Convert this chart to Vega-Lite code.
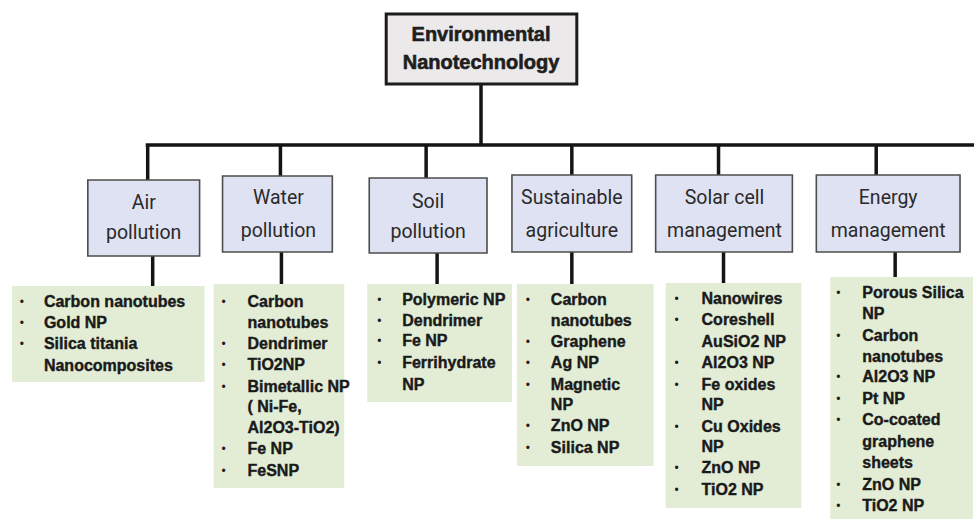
{
  "$schema": "https://vega.github.io/schema/vega-lite/v6.json",
  "width": 976,
  "height": 519,
  "padding": 0,
  "autosize": {"type": "fit", "contains": "padding"},
  "background": "white",
  "config": {"view": {"stroke": null}},
  "datasets": {
    "links": [
      {"x": 482, "x2": 482, "y": 84, "y2": 145},
      {"x": 146, "x2": 976, "y": 145, "y2": 145},
      {"x": 148, "x2": 148, "y": 145, "y2": 180},
      {"x": 281, "x2": 281, "y": 145, "y2": 176},
      {"x": 427, "x2": 427, "y": 145, "y2": 178},
      {"x": 573, "x2": 573, "y": 145, "y2": 175},
      {"x": 720, "x2": 720, "y": 145, "y2": 175},
      {"x": 878, "x2": 878, "y": 145, "y2": 175},
      {"x": 153, "x2": 153, "y": 256, "y2": 286},
      {"x": 282, "x2": 282, "y": 252, "y2": 284},
      {"x": 438, "x2": 438, "y": 253, "y2": 284},
      {"x": 573, "x2": 573, "y": 252, "y2": 284},
      {"x": 725, "x2": 725, "y": 252, "y2": 283},
      {"x": 897, "x2": 897, "y": 252, "y2": 277}
    ],
    "boxes": [
      {"kind": "root", "x": 387, "x2": 578, "y": 14, "y2": 84},
      {"kind": "category", "x": 88, "x2": 200, "y": 180, "y2": 256},
      {"kind": "category", "x": 223, "x2": 333, "y": 176, "y2": 252},
      {"kind": "category", "x": 370, "x2": 488, "y": 178, "y2": 253},
      {"kind": "category", "x": 513, "x2": 633, "y": 175, "y2": 252},
      {"kind": "category", "x": 657, "x2": 794, "y": 175, "y2": 252},
      {"kind": "category", "x": 818, "x2": 962, "y": 175, "y2": 252},
      {"kind": "list", "x": 12, "x2": 205, "y": 286, "y2": 382},
      {"kind": "list", "x": 214, "x2": 345, "y": 284, "y2": 488},
      {"kind": "list", "x": 368, "x2": 513, "y": 284, "y2": 402},
      {"kind": "list", "x": 518, "x2": 655, "y": 284, "y2": 466},
      {"kind": "list", "x": 667, "x2": 803, "y": 283, "y2": 508},
      {"kind": "list", "x": 832, "x2": 975, "y": 277, "y2": 519}
    ],
    "titles": [
      {"x": 482, "y": 35, "text": "Environmental"},
      {"x": 482, "y": 63, "text": "Nanotechnology"}
    ],
    "categories": [
      {"x": 144, "y": 203, "text": "Air"},
      {"x": 144, "y": 233, "text": "pollution"},
      {"x": 279, "y": 198, "text": "Water"},
      {"x": 279, "y": 231, "text": "pollution"},
      {"x": 429, "y": 202, "text": "Soil"},
      {"x": 429, "y": 232, "text": "pollution"},
      {"x": 573, "y": 198, "text": "Sustainable"},
      {"x": 573, "y": 231, "text": "agriculture"},
      {"x": 726, "y": 198, "text": "Solar cell"},
      {"x": 726, "y": 231, "text": "management"},
      {"x": 890, "y": 198, "text": "Energy"},
      {"x": 890, "y": 231, "text": "management"}
    ],
    "items": [
      {"group": "Air pollution", "bullet": 22, "x": 44, "y": 302, "text": "Carbon nanotubes", "first": true},
      {"group": "Air pollution", "bullet": 22, "x": 44, "y": 323, "text": "Gold NP", "first": true},
      {"group": "Air pollution", "bullet": 22, "x": 44, "y": 344, "text": "Silica titania", "first": true},
      {"group": "Air pollution", "bullet": 22, "x": 44, "y": 366, "text": "Nanocomposites", "first": false},
      {"group": "Water pollution", "bullet": 224, "x": 248, "y": 302, "text": "Carbon", "first": true},
      {"group": "Water pollution", "bullet": 224, "x": 248, "y": 323, "text": "nanotubes", "first": false},
      {"group": "Water pollution", "bullet": 224, "x": 248, "y": 344, "text": "Dendrimer", "first": true},
      {"group": "Water pollution", "bullet": 224, "x": 248, "y": 365, "text": "TiO2NP", "first": true},
      {"group": "Water pollution", "bullet": 224, "x": 248, "y": 387, "text": "Bimetallic NP", "first": true},
      {"group": "Water pollution", "bullet": 224, "x": 248, "y": 407, "text": "( Ni-Fe,", "first": false},
      {"group": "Water pollution", "bullet": 224, "x": 248, "y": 428, "text": "Al2O3-TiO2)", "first": false},
      {"group": "Water pollution", "bullet": 224, "x": 248, "y": 449, "text": "Fe NP", "first": true},
      {"group": "Water pollution", "bullet": 224, "x": 248, "y": 471, "text": "FeSNP", "first": true},
      {"group": "Soil pollution", "bullet": 380, "x": 403, "y": 300, "text": "Polymeric NP", "first": true},
      {"group": "Soil pollution", "bullet": 380, "x": 403, "y": 321, "text": "Dendrimer", "first": true},
      {"group": "Soil pollution", "bullet": 380, "x": 403, "y": 341, "text": "Fe NP", "first": true},
      {"group": "Soil pollution", "bullet": 380, "x": 403, "y": 363, "text": "Ferrihydrate", "first": true},
      {"group": "Soil pollution", "bullet": 380, "x": 403, "y": 385, "text": "NP", "first": false},
      {"group": "Sustainable agriculture", "bullet": 529, "x": 552, "y": 300, "text": "Carbon", "first": true},
      {"group": "Sustainable agriculture", "bullet": 529, "x": 552, "y": 321, "text": "nanotubes", "first": false},
      {"group": "Sustainable agriculture", "bullet": 529, "x": 552, "y": 342, "text": "Graphene", "first": true},
      {"group": "Sustainable agriculture", "bullet": 529, "x": 552, "y": 363, "text": "Ag NP", "first": true},
      {"group": "Sustainable agriculture", "bullet": 529, "x": 552, "y": 385, "text": "Magnetic", "first": true},
      {"group": "Sustainable agriculture", "bullet": 529, "x": 552, "y": 405, "text": "NP", "first": false},
      {"group": "Sustainable agriculture", "bullet": 529, "x": 552, "y": 426, "text": "ZnO NP", "first": true},
      {"group": "Sustainable agriculture", "bullet": 529, "x": 552, "y": 448, "text": "Silica NP", "first": true},
      {"group": "Solar cell management", "bullet": 678, "x": 703, "y": 299, "text": "Nanowires", "first": true},
      {"group": "Solar cell management", "bullet": 678, "x": 703, "y": 320, "text": "Coreshell", "first": true},
      {"group": "Solar cell management", "bullet": 678, "x": 703, "y": 342, "text": "AuSiO2 NP", "first": false},
      {"group": "Solar cell management", "bullet": 678, "x": 703, "y": 363, "text": "Al2O3 NP", "first": true},
      {"group": "Solar cell management", "bullet": 678, "x": 703, "y": 385, "text": "Fe oxides", "first": true},
      {"group": "Solar cell management", "bullet": 678, "x": 703, "y": 405, "text": "NP", "first": false},
      {"group": "Solar cell management", "bullet": 678, "x": 703, "y": 427, "text": "Cu Oxides", "first": true},
      {"group": "Solar cell management", "bullet": 678, "x": 703, "y": 447, "text": "NP", "first": false},
      {"group": "Solar cell management", "bullet": 678, "x": 703, "y": 468, "text": "ZnO NP", "first": true},
      {"group": "Solar cell management", "bullet": 678, "x": 703, "y": 490, "text": "TiO2 NP", "first": true},
      {"group": "Energy management", "bullet": 840, "x": 864, "y": 293, "text": "Porous Silica", "first": true},
      {"group": "Energy management", "bullet": 840, "x": 864, "y": 314, "text": "NP", "first": false},
      {"group": "Energy management", "bullet": 840, "x": 864, "y": 336, "text": "Carbon", "first": true},
      {"group": "Energy management", "bullet": 840, "x": 864, "y": 357, "text": "nanotubes", "first": false},
      {"group": "Energy management", "bullet": 840, "x": 864, "y": 377, "text": "Al2O3 NP", "first": true},
      {"group": "Energy management", "bullet": 840, "x": 864, "y": 399, "text": "Pt NP", "first": true},
      {"group": "Energy management", "bullet": 840, "x": 864, "y": 420, "text": "Co-coated", "first": true},
      {"group": "Energy management", "bullet": 840, "x": 864, "y": 442, "text": "graphene", "first": false},
      {"group": "Energy management", "bullet": 840, "x": 864, "y": 463, "text": "sheets", "first": false},
      {"group": "Energy management", "bullet": 840, "x": 864, "y": 485, "text": "ZnO NP", "first": true},
      {"group": "Energy management", "bullet": 840, "x": 864, "y": 506, "text": "TiO2 NP", "first": true}
    ]
  },
  "encoding": {
    "x": {"field": "x", "type": "quantitative", "scale": {"domain": [0, 976], "nice": false, "zero": false}, "axis": null},
    "y": {"field": "y", "type": "quantitative", "scale": {"domain": [0, 519], "nice": false, "zero": false, "reverse": true}, "axis": null}
  },
  "layer": [
    {
      "data": {"name": "boxes"},
      "transform": [{"filter": "datum.kind === 'list'"}],
      "mark": {"type": "rect", "fill": "#e3edd6", "stroke": null},
      "encoding": {"x2": {"field": "x2"}, "y2": {"field": "y2"}}
    },
    {
      "data": {"name": "links"},
      "mark": {"type": "rule", "color": "#141414", "strokeWidth": 3.5},
      "encoding": {"x2": {"field": "x2"}, "y2": {"field": "y2"}}
    },
    {
      "data": {"name": "boxes"},
      "transform": [{"filter": "datum.kind === 'root'"}],
      "mark": {"type": "rect", "fill": "#ebe9ea", "stroke": "#1c1c1c", "strokeWidth": 3},
      "encoding": {"x2": {"field": "x2"}, "y2": {"field": "y2"}}
    },
    {
      "data": {"name": "boxes"},
      "transform": [{"filter": "datum.kind === 'category'"}],
      "mark": {"type": "rect", "fill": "#dfe2f3", "stroke": "#4d4d4d", "strokeWidth": 1.6},
      "encoding": {"x2": {"field": "x2"}, "y2": {"field": "y2"}}
    },
    {
      "data": {"name": "titles"},
      "mark": {"type": "text", "font": "Liberation Sans", "fontWeight": "bold", "fontSize": 20, "align": "center", "baseline": "middle", "color": "#1e1e1e", "stroke": "#1e1e1e", "strokeWidth": 0.6},
      "encoding": {"text": {"field": "text"}}
    },
    {
      "data": {"name": "categories"},
      "mark": {"type": "text", "font": "Roboto", "fontSize": 19.5, "align": "center", "baseline": "middle", "color": "#2a2a2a"},
      "encoding": {"text": {"field": "text"}}
    },
    {
      "data": {"name": "items"},
      "transform": [{"filter": "datum.first"}],
      "mark": {"type": "text", "font": "Liberation Sans", "fontSize": 12, "align": "center", "baseline": "middle", "color": "#1e1e1e", "text": "•"},
      "encoding": {"x": {"field": "bullet", "type": "quantitative"}}
    },
    {
      "data": {"name": "items"},
      "mark": {"type": "text", "font": "Liberation Sans", "fontWeight": "bold", "fontSize": 16, "align": "left", "baseline": "middle", "color": "#1a1a1a", "stroke": "#1a1a1a", "strokeWidth": 0.4},
      "encoding": {"text": {"field": "text"}}
    }
  ]
}
